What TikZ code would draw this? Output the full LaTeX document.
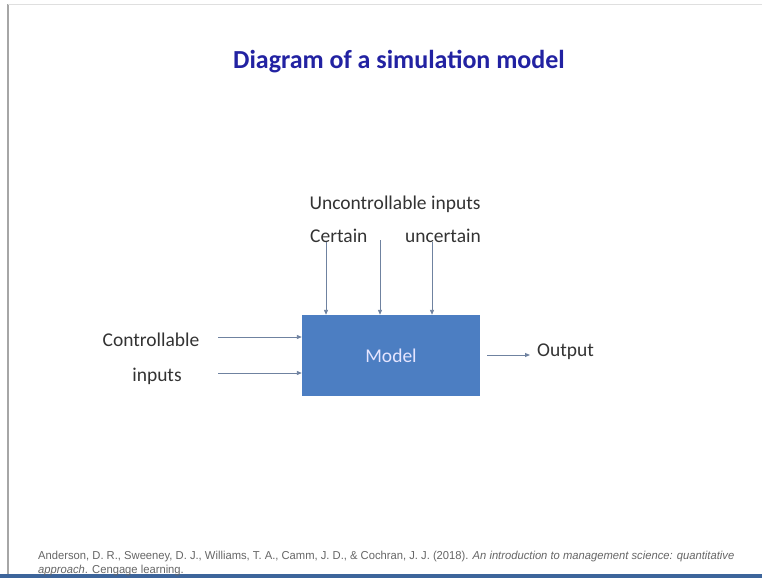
\documentclass[tikz,border=0pt]{standalone}
\usepackage{fontspec}
\setmainfont{Carlito}
\newfontfamily\citefont{Liberation Sans}
\usetikzlibrary{arrows.meta}
\definecolor{titleblue}{HTML}{2222A2}
\definecolor{boxblue}{HTML}{4C7EC2}
\definecolor{arrowgray}{HTML}{6F82A0}
\definecolor{textgray}{HTML}{333333}
\tikzset{
  lbl/.style={inner sep=0pt, text=textgray, font=\fontsize{19.5}{21}\selectfont},
  conn/.style={draw=arrowgray, line width=0.9pt, -{Triangle[length=5pt,width=4pt]}},
}
\begin{document}
\begin{tikzpicture}[x=1pt,y=-1pt]
\useasboundingbox (0,0) rectangle (762,578);
\fill[white] (0,0) rectangle (762,578);
\draw[gray!70, line width=1.5pt] (8,4) -- (8,575);
\draw[gray!25, line width=0.6pt] (8,4) -- (762,4);
\fill[boxblue!80!black] (0,574) rectangle (762,578);
\node[inner sep=0pt, text=titleblue, font=\bfseries\fontsize{26}{30}\selectfont] (title) at (399,62) {Diagram of a simulation model};
\node[fill=boxblue, minimum width=178pt, minimum height=81pt, inner sep=0pt, text=white!90!blue, font=\fontsize{19.5}{21}\selectfont] (model) at (391,355.5) {Model};
\node[lbl] (unc) at (395,204) {Uncontrollable inputs};
\node[lbl, anchor=west] (cert) at (310,236) {Certain};
\node[lbl, anchor=east] (uncert) at (481,236) {uncertain};
\node[lbl] (ctrl) at (151,340) {Controllable};
\node[lbl] (inp) at (157,376) {inputs};
\node[lbl, anchor=west] (out) at (537,352) {Output};
\coordinate (t1) at (326,242);
\coordinate (t2) at (380,240);
\coordinate (t3) at (432,242);
\coordinate (l1) at (218,337);
\coordinate (l2) at (218,373);
\coordinate (o1) at (487,355);
\coordinate (o2) at (530,355);
\draw[conn] (t1) -- (t1 |- model.north);
\draw[conn] (t2) -- (t2 |- model.north);
\draw[conn] (t3) -- (t3 |- model.north);
\draw[conn] (l1) -- (l1 -| model.west);
\draw[conn] (l2) -- (l2 -| model.west);
\draw[conn] (o1) -- (o2);
\node[anchor=west, inner sep=0pt, text=gray!80!black, font=\citefont\fontsize{11.5}{13}\selectfont, xscale=0.975] (cite1) at (38,557) {Anderson, D. R., Sweeney, D. J., Williams, T. A., Camm, J. D., \& Cochran, J. J. (2018). \textit{An introduction to management science: quantitative}};
\node[anchor=west, inner sep=0pt, text=gray!80!black, font=\citefont\fontsize{11.5}{13}\selectfont, xscale=0.975] (cite2) at (38,570.5) {\textit{approach}. Cengage learning.};
\end{tikzpicture}
\end{document}
